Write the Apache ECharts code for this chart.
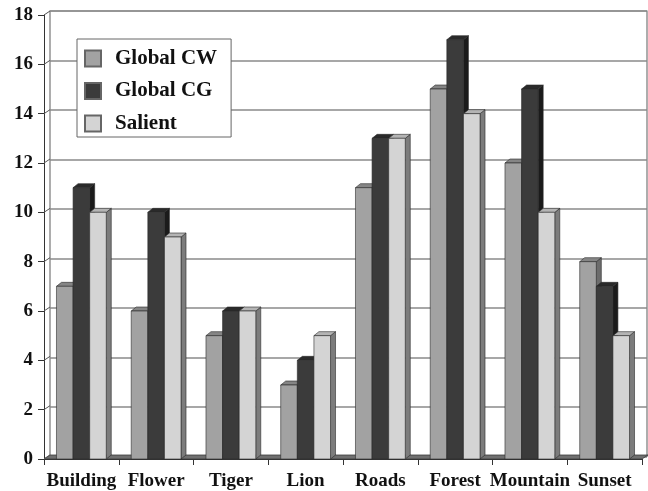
<!DOCTYPE html>
<html>
<head>
<meta charset="utf-8">
<script src="https://cdn.jsdelivr.net/npm/echarts@6/dist/echarts.min.js"></script>
<style>html,body{margin:0;padding:0;background:#fff;}#c{width:648px;height:491px;}</style>
</head>
<body>
<div id="c"></div>
<script>
const categories = ['Building','Flower','Tiger','Lion','Roads','Forest','Mountain','Sunset'];
const globalCW = [7, 6, 5, 3, 11, 15, 12, 8];
const globalCG = [11, 10, 6, 4, 13, 17, 15, 7];
const salient = [10, 9, 6, 5, 13, 14, 10, 5];
const yTicks = [0, 2, 4, 6, 8, 10, 12, 14, 16, 18];

const FONT = '"Liberation Serif", "DejaVu Serif", serif';
const DX = 5, DY = 4;
const seriesDefs = [
  {name:'Global CW', data: globalCW, front:'#a2a2a2', top:'#858585', side:'#6c6c6c'},
  {name:'Global CG', data: globalCG, front:'#3b3b3b', top:'#2a2a2a', side:'#1b1b1b'},
  {name:'Salient', data: salient, front:'#d4d4d4', top:'#b4b4b4', side:'#7c7c7c'}
];

function barRender(sIdx, def){
  return function(params, api){
    const cat = api.value(0), v = api.value(1);
    const base = api.coord([cat, 0]);
    const top = api.coord([cat, v]);
    const cw = api.size([1, 0])[0];
    const bw = cw * 0.222;
    const x0 = base[0] - 1.5 * bw + sIdx * bw;
    const x1 = x0 + bw;
    const yb = base[1], yt = top[1];
    const stroke = {stroke:'#2a2a2a', lineWidth:0.6};
    return {type:'group', children:[
      {type:'polygon', shape:{points:[[x1,yt],[x1+DX,yt-DY],[x1+DX,yb-DY],[x1,yb]]},
        style:Object.assign({fill:def.side}, stroke)},
      {type:'polygon', shape:{points:[[x0,yt],[x1,yt],[x1+DX,yt-DY],[x0+DX,yt-DY]]},
        style:Object.assign({fill:def.top}, stroke)},
      {type:'rect', shape:{x:x0, y:yt, width:bw, height:yb-yt},
        style:Object.assign({fill:def.front}, stroke)}
    ]};
  };
}

const series = [];
// floor strip
series.push({
  type:'custom', xAxisIndex:0, yAxisIndex:0, silent:true, z:1,
  data:[[0,0]],
  renderItem:function(params, api){
    const cs = params.coordSys;
    const yb = api.coord([0,0])[1];
    const xl = cs.x, xr = cs.x + cs.width;
    return {type:'polygon', shape:{points:[[xl,yb],[xr,yb],[xr+DX+1,yb-DY],[xl+DX+1,yb-DY]]},
      style:{fill:'#707070', stroke:'#3a3a3a', lineWidth:0.8}};
  }
});
// left wall connectors
series.push({
  type:'custom', xAxisIndex:0, yAxisIndex:0, silent:true, z:1,
  data: yTicks.map(t => [0, t]),
  renderItem:function(params, api){
    const cs = params.coordSys;
    const y = api.coord([0, api.value(1)])[1];
    return {type:'line', shape:{x1:cs.x, y1:y, x2:cs.x+DX+1, y2:y-DY},
      style:{stroke:'#555', lineWidth:1}};
  }
});
seriesDefs.forEach(function(def, i){
  series.push({
    name:def.name, type:'custom', xAxisIndex:0, yAxisIndex:0, z:3+i,
    itemStyle:{color:def.front, borderColor:'#666', borderWidth:1},
    encode:{x:0, y:1},
    data: def.data.map((v, k) => [k, v]),
    renderItem: barRender(i, def)
  });
});

const chart = echarts.init(document.getElementById('c'), null, {renderer:'canvas'});
chart.setOption({
  animation:false,
  backgroundColor:'#fff',
  grid:[
    {left:44, right:6, top:15, bottom:30.5},
    {left:50, right:1, top:11, bottom:34.5, show:true, borderColor:'#777', borderWidth:1.2, backgroundColor:'transparent'}
  ],
  legend:{
    orient:'vertical', left:77, top:39,
    data:seriesDefs.map(d => d.name),
    icon:'rect', itemWidth:16, itemHeight:16, itemGap:11.5,
    padding:[9, 14, 3, 7],
    backgroundColor:'#fff', borderColor:'#666', borderWidth:1,
    textStyle:{fontFamily:FONT, fontWeight:'bold', fontSize:21, color:'#111', padding:[0,0,0,9]},
    selectedMode:false
  },
  xAxis:[
    {gridIndex:0, type:'category', data:categories, boundaryGap:true,
      axisLine:{show:true, lineStyle:{color:'#333', width:1}},
      axisTick:{show:true, length:6, lineStyle:{color:'#333'}},
      axisLabel:{fontFamily:FONT, fontWeight:'bold', fontSize:19, color:'#111', margin:13, interval:0},
      splitLine:{show:false}},
    {gridIndex:1, type:'value', show:false, min:0, max:1}
  ],
  yAxis:[
    {gridIndex:0, type:'value', min:0, max:18, interval:2,
      axisLine:{show:true, lineStyle:{color:'#333', width:1}},
      axisTick:{show:true, length:6, lineStyle:{color:'#333'}},
      axisLabel:{fontFamily:FONT, fontWeight:'bold', fontSize:19, color:'#111', margin:11},
      splitLine:{show:false}},
    {gridIndex:1, type:'value', min:0, max:18, interval:2,
      axisLine:{show:false}, axisTick:{show:false}, axisLabel:{show:false},
      splitLine:{show:true, lineStyle:{color:'#8a8a8a', width:1.5}}}
  ],
  series:series
});
</script>
</body>
</html>
